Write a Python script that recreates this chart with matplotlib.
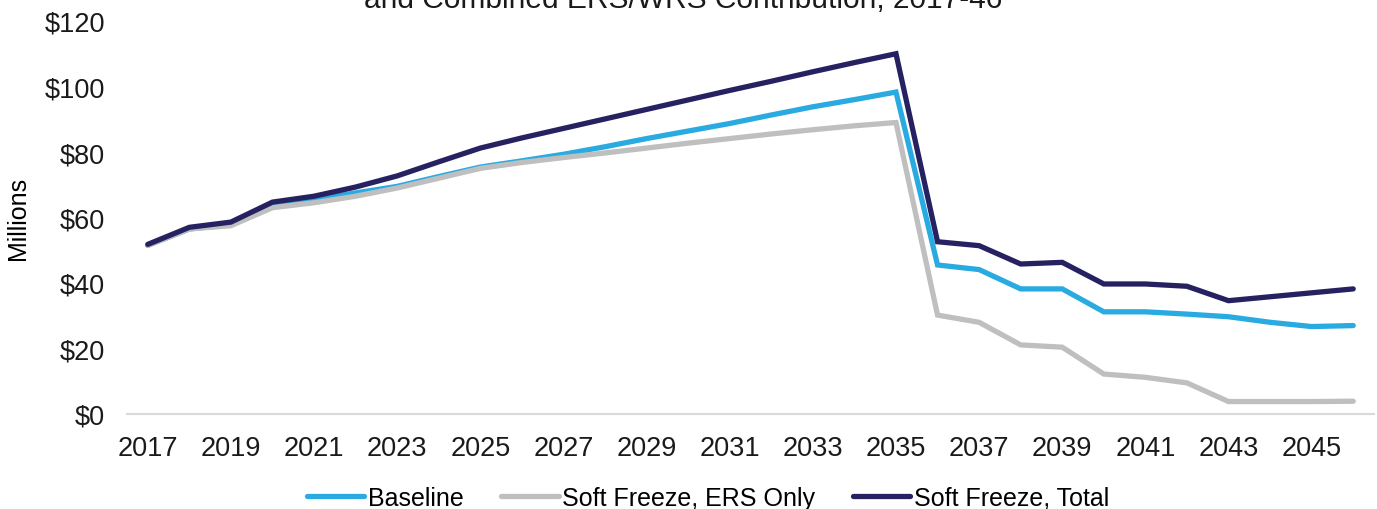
import matplotlib.pyplot as plt
from matplotlib.ticker import FuncFormatter

plt.rcParams['font.family'] = ['Liberation Sans', 'DejaVu Sans']

years = list(range(2017, 2047))

baseline = [51.5, 56.5, 57.8, 63.8, 65.5, 67.5, 69.5, 72.5, 75.4, 77.3,
            79.3, 81.6, 84.1, 86.4, 88.7, 91.3, 93.8, 96.0, 98.3, 45.5,
            44.1, 38.2, 38.2, 31.2, 31.2, 30.5, 29.7, 28.0, 26.7, 27.0]

ers_only = [51.5, 56.5, 57.5, 63.0, 64.5, 66.5, 69.0, 72.0, 75.0, 76.8,
            78.3, 79.7, 81.2, 82.7, 84.1, 85.5, 86.8, 88.0, 89.0, 30.2,
            28.0, 21.1, 20.4, 12.2, 11.2, 9.5, 3.8, 3.8, 3.8, 3.9]

total = [51.8, 57.0, 58.6, 64.7, 66.5, 69.3, 72.7, 77.0, 81.2, 84.3,
         87.2, 90.1, 93.0, 95.9, 98.8, 101.6, 104.5, 107.3, 110.0, 52.6,
         51.4, 45.8, 46.3, 39.7, 39.7, 39.0, 34.6, 35.8, 37.0, 38.2]

series_names = ['Baseline', 'Soft Freeze, ERS Only', 'Soft Freeze, Total']
colors = ['#29ABE2', '#BFBFBF', '#262262']

fig = plt.figure(figsize=(13.77, 5.10), dpi=100)
ax = fig.add_axes([127 / 1377, 95 / 510, 1247 / 1377, 393 / 510])

for vals, name, c in zip([baseline, ers_only, total], series_names, colors):
    ax.plot(years, vals, color=c, lw=3.8, label=name,
            solid_joinstyle='miter', solid_capstyle='round')

ax.set_xlim(2016.5, 2046.5)
ax.set_ylim(0, 120)
ax.set_yticks(range(0, 121, 20))
ax.yaxis.set_major_formatter(FuncFormatter(lambda v, p: f'${v:.0f}'))
ax.set_xticks(years[::2])

for s in ['top', 'right', 'left']:
    ax.spines[s].set_visible(False)
ax.spines['bottom'].set_color('#D9D9D9')
ax.spines['bottom'].set_linewidth(1.5)
ax.tick_params(length=0, labelsize=19.5, colors='#1a1a1a')
ax.tick_params(axis='y', pad=16)
ax.tick_params(axis='x', pad=15)

ax.set_ylabel('Millions', fontsize=18)
ax.yaxis.set_label_coords(-0.078, 0.50)

fig.text(683 / 1377, 1 - 8 / 510, 'and Combined ERS/WRS Contribution, 2017-46',
         ha='center', va='baseline', fontsize=21.5, color='#1a1a1a')

ax.legend(loc='center', bbox_to_anchor=(0.466, -0.213), ncol=3,
          frameon=False, fontsize=18, handlelength=2.3, handletextpad=0.15,
          columnspacing=1.5)

fig.savefig('out.png', dpi=100)
